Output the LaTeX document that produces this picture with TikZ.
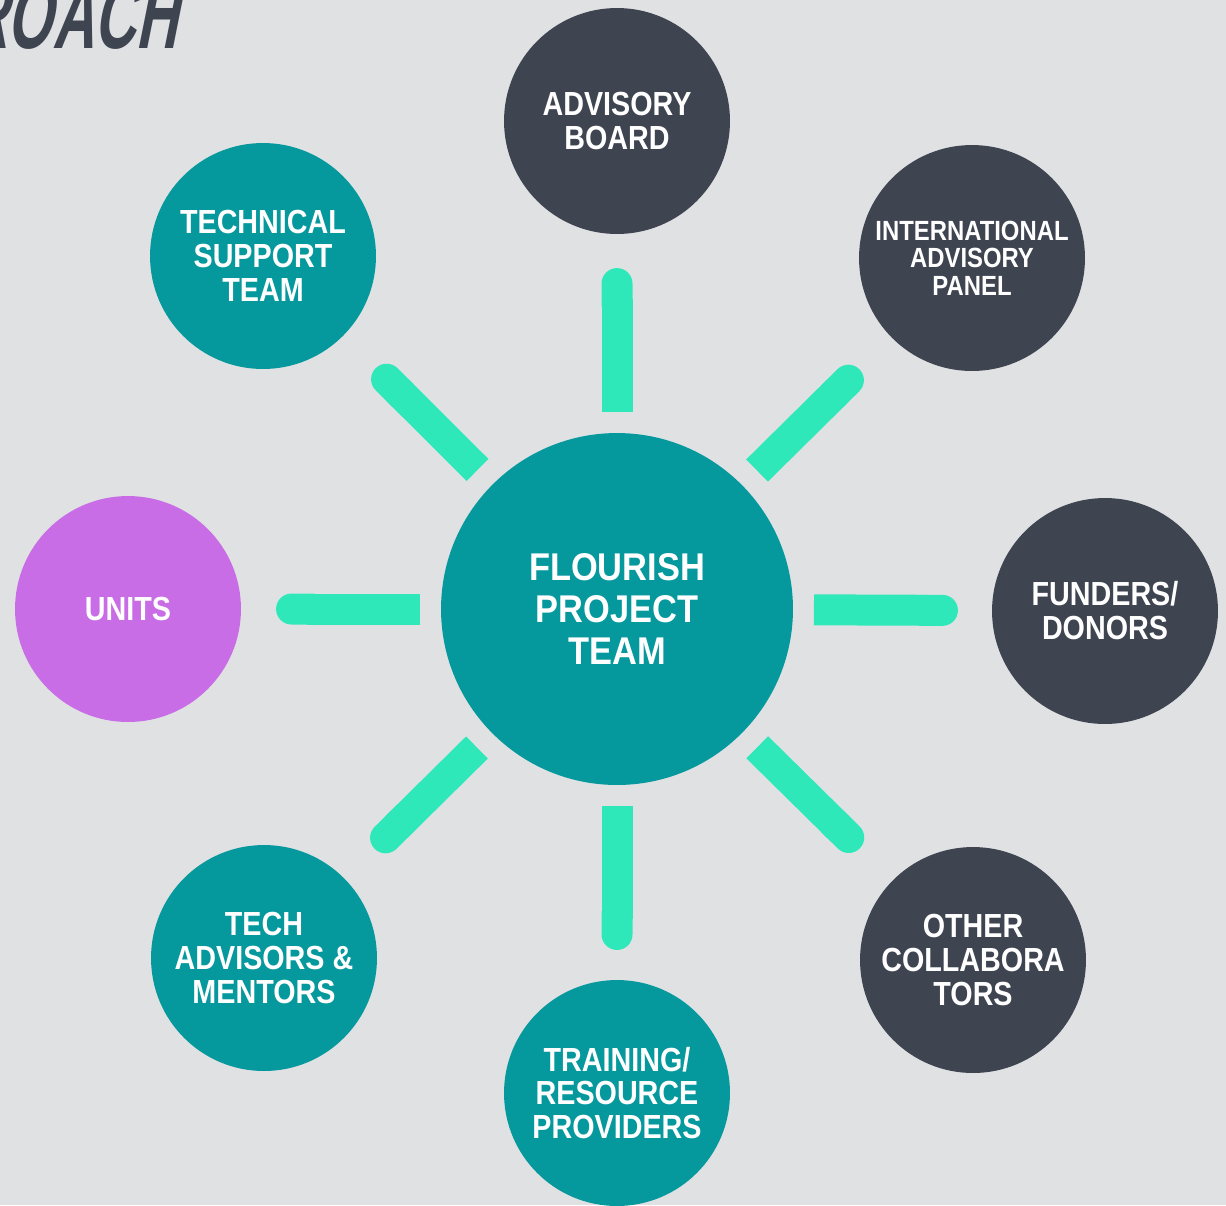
\documentclass[tikz,border=0pt]{standalone}
\usepackage{fontspec}
\usepackage{tikz}
\usetikzlibrary{calc}
\usetikzlibrary{arrows.meta}
\usepackage{xcolor}

\newfontfamily\labelfont{Liberation Sans}[FakeStretch=0.86]
\newfontfamily\hubfont{Liberation Sans}[FakeStretch=0.89]
\newfontfamily\titlefont{Liberation Sans}[FakeStretch=0.6,FakeSlant=0.2]

\definecolor{flbg}{HTML}{E0E1E3}
\definecolor{flteal}{HTML}{05989D}
\definecolor{flslate}{HTML}{3F4451}
\definecolor{flpurple}{HTML}{C86DE6}
\definecolor{flmint}{HTML}{2EE8BA}

\tikzset{
  bubble/.style={circle, inner sep=0pt, minimum size=4.52cm, text=white, align=center,
    font=\labelfont\bfseries\fontsize{19}{19.3}\selectfont},
  tealbubble/.style={bubble, fill=flteal},
  slatebubble/.style={bubble, fill=flslate},
  hubbubble/.style={bubble, fill=flteal, minimum size=7.04cm,
    font=\hubfont\bfseries\fontsize{22}{23.8}\selectfont},
  spoke/.style={flmint, line width=0.62cm, -{Round Cap[]}},
  heading/.style={text=flslate, inner sep=0pt, font=\titlefont\bfseries\fontsize{55}{55}\selectfont}
}

\begin{document}
\begin{tikzpicture}[x=0.02cm, y=-0.02cm]

\fill[flbg] (0,0) rectangle (1226,1205);
\useasboundingbox (0,0) rectangle (1226,1205);

\node[heading, anchor=base east] (ttl) at (178,48) {APPROACH};

\node[hubbubble] (hub) at (617,609) {FLOURISH\\PROJECT\\TEAM};

\node[slatebubble] (adv) at (617,121) {ADVISORY\\BOARD};
\node[slatebubble, font=\labelfont\bfseries\fontsize{15.8}{15.6}\selectfont] (iap) at (972,258) {INTERNATIONAL\\ADVISORY\\PANEL};
\node[slatebubble] (fund) at (1105,611) {FUNDERS/\\DONORS};
\node[slatebubble] (oth) at (973,960) {OTHER\\COLLABORA\\TORS};
\node[tealbubble] (train) at (617,1093) {TRAINING/\\RESOURCE\\PROVIDERS};
\node[tealbubble] (mentor) at (264,958) {TECH\\ADVISORS \&\\MENTORS};
\node[bubble, fill=flpurple] (units) at (128,609) {UNITS};
\node[tealbubble] (tss) at (263,256) {TECHNICAL\\SUPPORT\\TEAM};

\foreach \n in {adv,iap,fund,oth,train,mentor,units,tss}
\draw[spoke] ($(hub)!3.94cm!(\n)$) -- ($(hub)!6.82cm!(\n)$);

\end{tikzpicture}
\end{document}
